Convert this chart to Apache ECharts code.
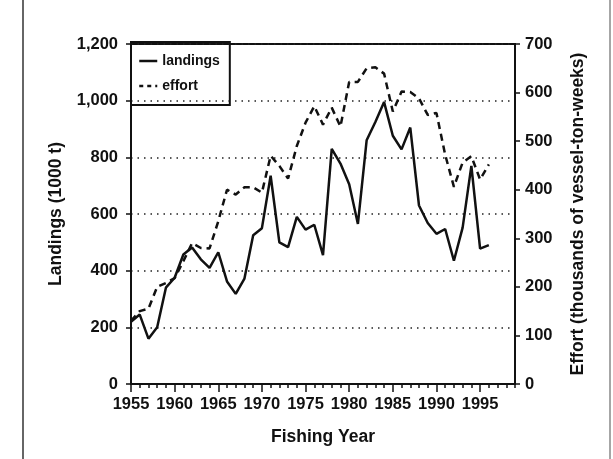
<!DOCTYPE html>
<html>
<head>
<meta charset="utf-8">
<script src="https://cdn.jsdelivr.net/npm/echarts@6/dist/echarts.min.js"></script>
<style>
  html, body { margin: 0; padding: 0; background: #fff; }
  #main { width: 613px; height: 459px; }
</style>
</head>
<body>
<div id="main"></div>
<script>
// fishing years 1955-1996
var years = [1955, 1956, 1957, 1958, 1959, 1960, 1961, 1962, 1963, 1964,
  1965, 1966, 1967, 1968, 1969, 1970, 1971, 1972, 1973, 1974,
  1975, 1976, 1977, 1978, 1979, 1980, 1981, 1982, 1983, 1984,
  1985, 1986, 1987, 1988, 1989, 1990, 1991, 1992, 1993, 1994,
  1995, 1996];

// landings, 1000 t (left axis)
var landings = [220, 245, 160, 200, 340, 375, 457, 482, 440, 410,
  465, 362, 318, 372, 525, 550, 735, 500, 483, 590,
  545, 562, 455, 830, 778, 705, 565, 860, 925, 995,
  876, 828, 905, 630, 568, 530, 547, 435, 552, 770,
  478, 490];

// effort, thousands of vessel-ton-weeks (right axis)
var effort = [130, 150, 155, 200, 208, 218, 253, 290, 280, 279,
  335, 400, 390, 405, 405, 394, 470, 449, 423, 490,
  538, 572, 534, 569, 530, 622, 622, 650, 652, 639,
  561, 602, 601, 588, 554, 558, 472, 406, 456, 469,
  421, 452];

var ink = '#111';
var fontFamily = '"Liberation Sans", Arial, sans-serif';

function pairs(values) {
  return years.map(function (y, i) { return [y, values[i]]; });
}

var chart = echarts.init(document.getElementById('main'));

var labelStyle = {
  color: ink,
  fontFamily: fontFamily,
  fontWeight: 'bold',
  fontSize: 16.5
};
var nameStyle = {
  color: ink,
  fontFamily: fontFamily,
  fontWeight: 'bold',
  fontSize: 17.5
};

var option = {
  animation: false,
  backgroundColor: '#fff',
  grid: {
    left: 131,
    right: 98,
    top: 44,
    bottom: 75,
    show: true,
    borderColor: ink,
    borderWidth: 2
  },
  legend: {
    left: 131,
    top: 42,
    orient: 'vertical',
    padding: [12, 10, 12, 7],
    itemWidth: 18,
    itemHeight: 14,
    itemGap: 11,
    borderColor: ink,
    borderWidth: 2,
    itemStyle: { opacity: 0 },
    textStyle: {
      color: ink,
      fontFamily: fontFamily,
      fontWeight: 'bold',
      fontSize: 14
    },
    data: [
      { name: 'landings', lineStyle: { color: ink, width: 2.5, type: 'solid' } },
      { name: 'effort', lineStyle: { color: ink, width: 2.5, type: [4, 4] } }
    ]
  },
  xAxis: [
    {
      type: 'value',
      min: 1955,
      max: 1999,
      interval: 1,
      axisLine: { lineStyle: { color: ink, width: 2 } },
      axisTick: { length: 4, lineStyle: { color: ink, width: 1.5 } },
      axisLabel: { show: false },
      splitLine: { show: false }
    },
    {
      type: 'value',
      position: 'bottom',
      min: 1955,
      max: 1999,
      interval: 5,
      name: 'Fishing Year',
      nameLocation: 'middle',
      nameGap: 44,
      nameTextStyle: nameStyle,
      axisLine: { show: false },
      axisTick: { length: 8, lineStyle: { color: ink, width: 1.5 } },
      axisLabel: Object.assign({
        margin: 12,
        showMaxLabel: false,
        formatter: function (v) { return String(v); }
      }, labelStyle),
      splitLine: { show: false }
    }
  ],
  yAxis: [
    {
      type: 'value',
      position: 'left',
      min: 0,
      max: 1200,
      interval: 200,
      name: 'Landings (1000 t)',
      nameLocation: 'middle',
      nameRotate: 90,
      nameGap: 66,
      nameTextStyle: nameStyle,
      axisLine: { show: true, lineStyle: { color: ink, width: 2 } },
      axisTick: { show: true, length: 5, lineStyle: { color: ink, width: 1.5 } },
      axisLabel: Object.assign({
        margin: 13,
        formatter: function (v) { return v.toLocaleString('en-US'); }
      }, labelStyle),
      splitLine: {
        show: true,
        lineStyle: { color: '#222', width: 1.5, type: [1.5, 5] }
      }
    },
    {
      type: 'value',
      position: 'right',
      min: 0,
      max: 700,
      interval: 100,
      name: 'Effort (thousands of vessel-ton-weeks)',
      nameLocation: 'middle',
      nameRotate: 90,
      nameGap: 54,
      nameTextStyle: nameStyle,
      axisLine: { show: true, lineStyle: { color: ink, width: 2 } },
      axisTick: { show: true, length: 5, lineStyle: { color: ink, width: 1.5 } },
      axisLabel: Object.assign({ margin: 10 }, labelStyle),
      splitLine: { show: false }
    }
  ],
  series: [
    {
      name: 'landings',
      type: 'line',
      xAxisIndex: 0,
      yAxisIndex: 0,
      symbol: 'none',
      color: ink,
      lineStyle: { color: ink, width: 2.5 },
      data: pairs(landings)
    },
    {
      name: 'effort',
      type: 'line',
      xAxisIndex: 0,
      yAxisIndex: 1,
      symbol: 'none',
      color: ink,
      lineStyle: { color: ink, width: 2.5, type: [7, 5] },
      data: pairs(effort)
    }
  ],
  // edges of the scanned page
  graphic: [
    { type: 'line', shape: { x1: 23, y1: 0, x2: 23, y2: 459 }, style: { stroke: '#666', lineWidth: 2 } },
    { type: 'line', shape: { x1: 610, y1: 0, x2: 610, y2: 459 }, style: { stroke: '#888', lineWidth: 1.5 } }
  ]
};

chart.setOption(option);
</script>
</body>
</html>
